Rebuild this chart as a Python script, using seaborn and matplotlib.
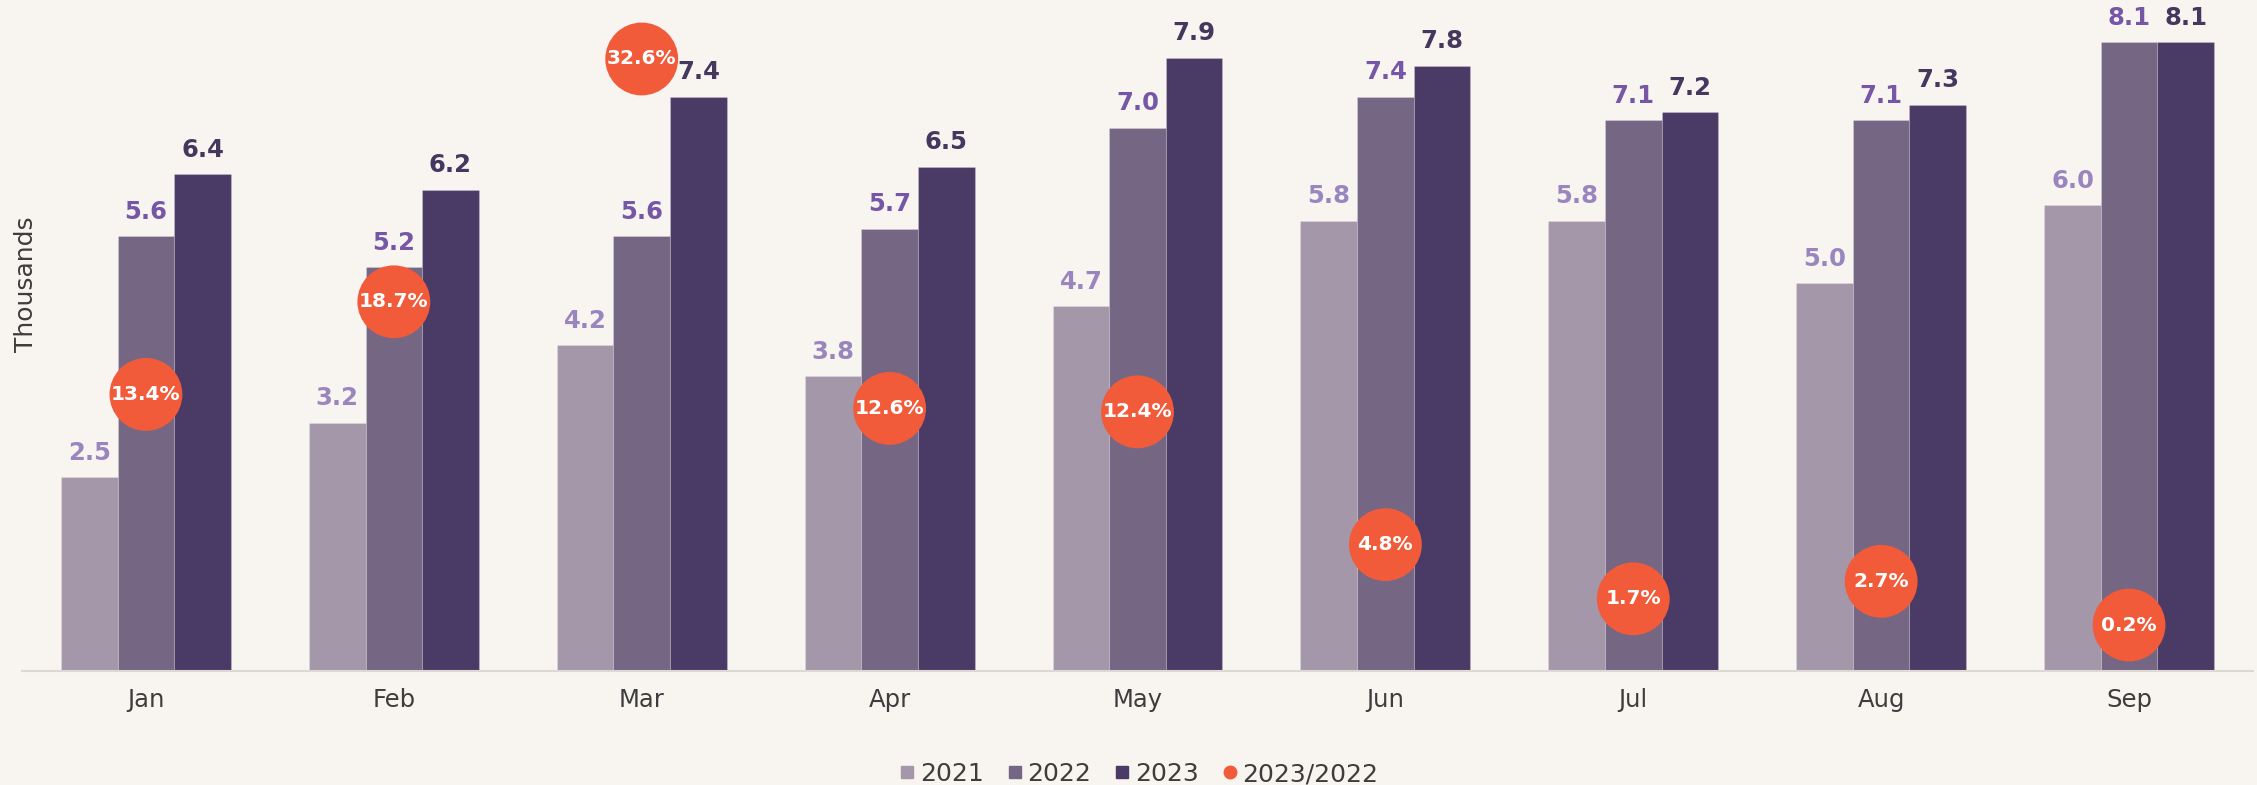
import matplotlib
matplotlib.use("Agg")
import matplotlib.pyplot as plt
import numpy as np
import pandas as pd
import seaborn as sns
from matplotlib.lines import Line2D

# data (thousands)
months = ["Jan", "Feb", "Mar", "Apr", "May", "Jun", "Jul", "Aug", "Sep"]
years = ["2021", "2022", "2023"]
v2021 = [2.5, 3.2, 4.2, 3.8, 4.7, 5.8, 5.8, 5.0, 6.0]
v2022 = [5.6, 5.2, 5.6, 5.7, 7.0, 7.4, 7.1, 7.1, 8.1]
v2023 = [6.4, 6.2, 7.4, 6.5, 7.9, 7.8, 7.2, 7.3, 8.1]
growth = [13.4, 18.7, 32.6, 12.6, 12.4, 4.8, 1.7, 2.7, 0.2]  # 2023/2022 in %

bar_colors = ["#a397a9", "#756684", "#4a3a66"]
label_colors = ["#9a86bf", "#7656a6", "#45385f"]
dot_color = "#f15b3a"
bg = "#f8f4f0"

df = pd.DataFrame({
    "month": months * 3,
    "year": [y for y in years for _ in months],
    "value": v2021 + v2022 + v2023,
})

sns.set_theme(style="white")
plt.rcParams["font.family"] = ["DejaVu Sans"]

fig = plt.figure(figsize=(22.57, 7.85), dpi=100, facecolor=bg)
ax = fig.add_axes([22 / 2257, 114 / 785, 2231 / 2257, 651 / 785])
ax.set_facecolor(bg)

sns.barplot(data=df, x="month", y="value", hue="year", palette=bar_colors,
            width=0.685, gap=0, ax=ax, legend=False,
            edgecolor=(1, 1, 1, 0.2), linewidth=0.8, saturation=1)

for cont, c in zip(ax.containers, label_colors):
    ax.bar_label(cont, fmt="%.1f", padding=9, color=c, fontsize=17.5,
                 fontweight="bold")

ax.set_xlim(-0.5, 8.5)
ax.set_ylim(0, 651 / 77.6)
ax.set_yticks([])
ax.set_xlabel("")
ax.set_ylabel("")
ax.tick_params(axis="x", length=0, pad=12, labelsize=17.5, labelcolor="#3d3d3d")
for s in ["top", "right", "left"]:
    ax.spines[s].set_visible(False)
ax.spines["bottom"].set_color("#dcd8d4")
ax.spines["bottom"].set_linewidth(1.5)

# secondary axis for the 2023/2022 growth circles
ax2 = ax.twinx()
x_pos = np.arange(len(months))
sns.scatterplot(x=x_pos, y=growth, ax=ax2, s=2750, color=dot_color,
                edgecolor="none", zorder=5)
for xi, g in zip(x_pos, growth):
    ax2.text(xi, g, f"{g:.1f}%", ha="center", va="center", color="white",
             fontsize=14.5, fontweight="bold", zorder=6)
ax2.set_ylim(-42.5 / 17.47, (651 - 42.5) / 17.47)
ax2.set_yticks([])
ax2.set_ylabel("")
for s in ["top", "right", "left", "bottom"]:
    ax2.spines[s].set_visible(False)

fig.text(26 / 2257, 1 - 284 / 785, "Thousands", rotation=90, ha="center",
         va="center", fontsize=18, color="#3d3d3d")

handles = [Line2D([], [], marker="s", linestyle="", color=c, markersize=8.5)
           for c in bar_colors]
handles.append(Line2D([], [], marker="o", linestyle="", color=dot_color,
                      markersize=9))
fig.legend(handles, years + ["2023/2022"], loc="center",
           bbox_to_anchor=(0.505, 11 / 785), ncol=4, frameon=False,
           fontsize=18, labelcolor="#3d3d3d", handlelength=0.5,
           handletextpad=0.25, columnspacing=1.0)

fig.savefig("out.png", dpi=100, facecolor=bg)
